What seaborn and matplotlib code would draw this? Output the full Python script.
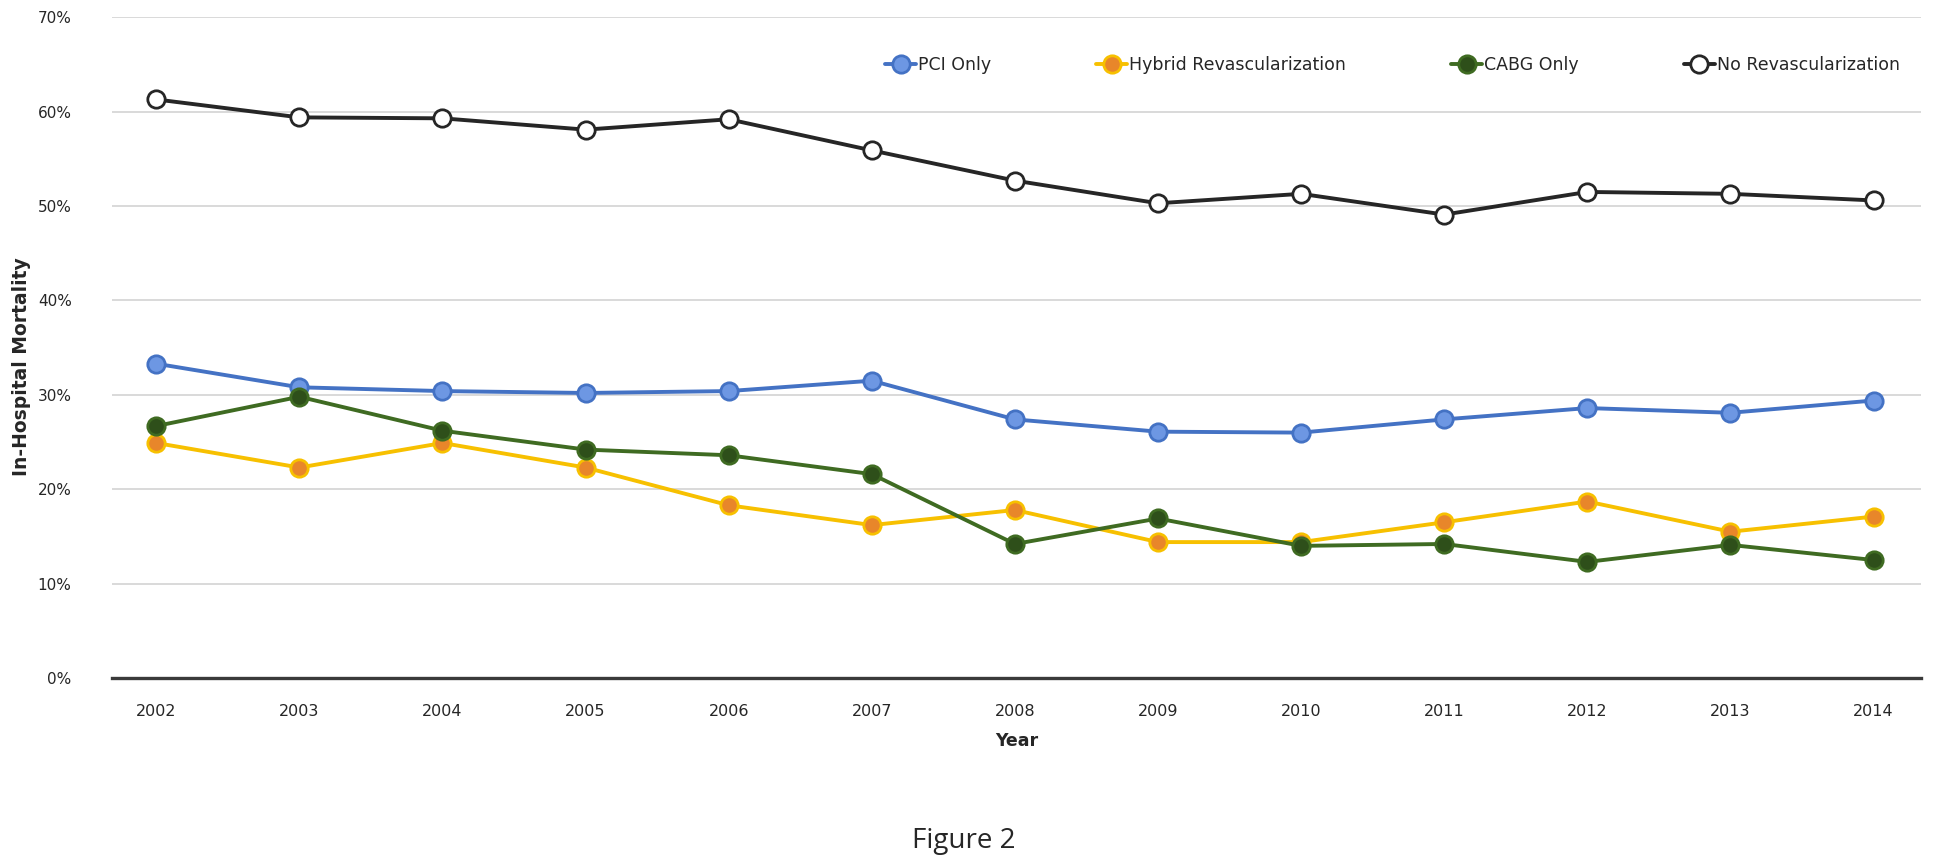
import pandas as pd
import matplotlib.pyplot as plt
import seaborn as sns
from matplotlib.ticker import PercentFormatter

# Data (in-hospital mortality, %)
years = [2002, 2003, 2004, 2005, 2006, 2007, 2008, 2009, 2010, 2011, 2012, 2013, 2014]
pci_only = [33.3, 30.8, 30.4, 30.2, 30.4, 31.5, 27.4, 26.1, 26.0, 27.4, 28.6, 28.1, 29.4]
hybrid = [24.9, 22.3, 24.9, 22.3, 18.3, 16.2, 17.8, 14.4, 14.4, 16.5, 18.7, 15.5, 17.1]
cabg_only = [26.7, 29.8, 26.2, 24.2, 23.6, 21.6, 14.2, 16.9, 14.0, 14.2, 12.3, 14.1, 12.5]
no_revasc = [61.3, 59.4, 59.3, 58.1, 59.2, 55.9, 52.7, 50.3, 51.3, 49.1, 51.5, 51.3, 50.6]

series = {
    "PCI Only": pci_only,
    "Hybrid Revascularization": hybrid,
    "CABG Only": cabg_only,
    "No Revascularization": no_revasc,
}
# line colour, marker face, marker edge
styles = {
    "PCI Only": ("#4472C4", "#6D97E3", "#4472C4"),
    "Hybrid Revascularization": ("#F7C000", "#E8862A", "#F7C000"),
    "CABG Only": ("#3F6B22", "#2E4F1A", "#3F6B22"),
    "No Revascularization": ("#262626", "white", "#262626"),
}

rows = []
for name, vals in series.items():
    for i, (yr, v) in enumerate(zip(years, vals)):
        rows.append({"idx": i, "year": yr, "value": v, "group": name})
df = pd.DataFrame(rows)

sns.set_style("white")
plt.rcParams['font.family'] = ['Liberation Sans Narrow', 'DejaVu Sans']

fig = plt.figure(figsize=(19.5, 8.67), dpi=100)
ax = fig.add_axes([0.0574, 0.218, 0.9276, 0.762])

for name in series:
    lc, fc, ec = styles[name]
    sub = df[df["group"] == name]
    sns.lineplot(data=sub, x="idx", y="value", ax=ax, color=lc, linewidth=2.8,
                 marker="o", markersize=12.5, markerfacecolor=fc,
                 markeredgecolor=ec, markeredgewidth=2.0, label=name, zorder=3)

ax.set_xlim(-0.31, 12.33)
ax.set_ylim(0, 70)
ax.set_yticks(range(0, 71, 10))
ax.yaxis.set_major_formatter(PercentFormatter(decimals=0))
ax.set_xticks(range(len(years)))
ax.set_xticklabels([str(y) for y in years])
ax.grid(axis="y", color="#D9D9D9", linewidth=1.4)
ax.set_axisbelow(True)
for s in ["top", "right", "left"]:
    ax.spines[s].set_visible(False)
ax.spines["bottom"].set_color("#3A3A3A")
ax.spines["bottom"].set_linewidth(2.4)
ax.tick_params(axis="both", length=0, colors="#262626")
ax.tick_params(axis="x", pad=19, labelsize=11.5)
ax.tick_params(axis="y", pad=29, labelsize=11)

ax.set_xlabel("Year", fontsize=12.5, fontweight="bold", labelpad=9)
ax.set_ylabel("In-Hospital Mortality", fontsize=13.5, fontweight="bold")
ax.yaxis.set_label_coords(-0.0445, 0.471)

ax.legend(loc="center right", bbox_to_anchor=(0.997, 0.928), ncol=4, frameon=False,
          fontsize=12.5, handlelength=1.8, handletextpad=0.1, columnspacing=6.05)

fig.text(0.494, 0.03, "Figure 2", fontsize=20, ha="center", va="center",
         family=['Open Sans', 'DejaVu Sans'])

fig.savefig("out.png", dpi=100)
